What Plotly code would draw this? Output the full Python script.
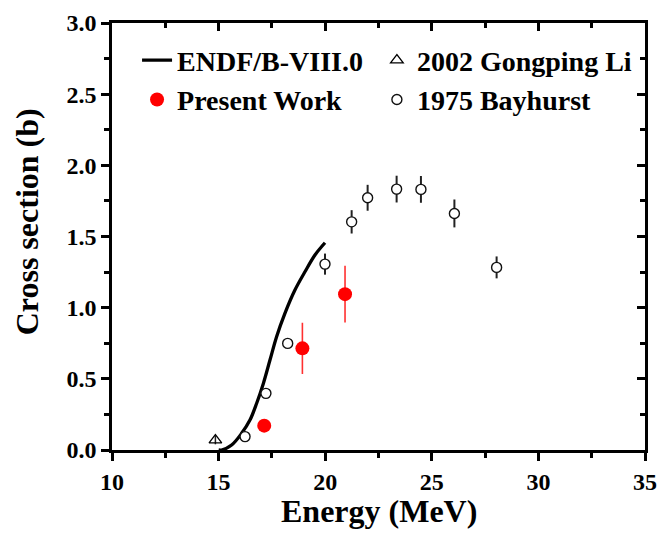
import plotly.graph_objects as go

# ---- data ----
endf_e = [15.0, 15.14, 15.61, 16.08, 16.47, 16.79, 17.10, 17.41, 17.72, 18.11, 18.58, 19.05, 19.52, 19.99]
endf_xs = [0.0, 0.0, 0.035, 0.117, 0.21, 0.33, 0.468, 0.632, 0.796, 0.96, 1.124, 1.252, 1.37, 1.456]

present_e = [17.14, 18.93, 20.93]
present_xs = [0.171, 0.714, 1.095]
present_err = [0.03, 0.18, 0.20]

li_e = [14.85]
li_xs = [0.07]
li_err = [0.03]

bay_e = [16.24, 17.22, 18.24, 19.99, 21.24, 21.99, 23.35, 24.49, 26.06, 28.04]
bay_xs = [0.094, 0.398, 0.749, 1.306, 1.603, 1.772, 1.833, 1.831, 1.662, 1.283]
bay_err = [0.03, 0.03, 0.03, 0.074, 0.082, 0.091, 0.094, 0.094, 0.098, 0.077]

x_range = [10, 35]
y_range = [0, 3.0]
x_title = "Energy (MeV)"
y_title = "Cross section (b)"

FONT = "Liberation Serif"

fig = go.Figure()

fig.add_trace(go.Scatter(
    x=endf_e, y=endf_xs, mode="lines", name="ENDF/B-VIII.0",
    line=dict(color="black", width=3.3, shape="spline"),
    legend="legend", legendrank=1,
))
fig.add_trace(go.Scatter(
    x=li_e, y=li_xs, mode="markers", name="2002 Gongping Li",
    marker=dict(symbol="triangle-up-open", size=11, color="black", line=dict(width=1.3, color="black")),
    error_y=dict(type="data", array=li_err, color="#222222", thickness=1.5, width=0),
    legend="legend2", legendrank=1,
))
fig.add_trace(go.Scatter(
    x=bay_e, y=bay_xs, mode="markers", name="1975 Bayhurst",
    marker=dict(symbol="circle", size=10, color="white", line=dict(width=1.4, color="#111111")),
    error_y=dict(type="data", array=bay_err, color="#222222", thickness=2, width=0),
    legend="legend2", legendrank=2,
))
fig.add_trace(go.Scatter(
    x=present_e, y=present_xs, mode="markers", name="Present Work",
    marker=dict(symbol="circle", size=14, color="#ff0000", line=dict(width=0)),
    error_y=dict(type="data", array=present_err, color="#ff3030", thickness=1.6, width=0),
    legend="legend", legendrank=2,
))
# empty trace to anchor the mirrored top/right axes
fig.add_trace(go.Scatter(x=[], y=[], xaxis="x2", yaxis="y2", showlegend=False, hoverinfo="skip"))

tickfont = dict(family=FONT, size=24, color="black", weight="bold")
titlefont = dict(family=FONT, size=32, color="black", weight="bold")
legfont = dict(family=FONT, size=28, color="black", weight="bold")

common = dict(showgrid=False, zeroline=False, tickcolor="black", tickwidth=2.5, automargin=False)

fig.update_layout(
    width=663, height=538,
    margin=dict(l=112, r=18, t=23, b=88),
    paper_bgcolor="white", plot_bgcolor="white",
    xaxis=dict(range=x_range, dtick=5, tick0=10, ticks="outside", ticklen=8, showline=True, mirror=True,
               linecolor="black", linewidth=2.5,
               minor=dict(ticks="outside", ticklen=5, dtick=2.5, tick0=10, tickwidth=2.5, tickcolor="black"),
               tickfont=tickfont, **common),
    yaxis=dict(range=y_range, dtick=0.5, tick0=0, ticks="outside", ticklen=8, showline=True, mirror=True,
               linecolor="black", linewidth=2.5, tickformat=".1f",
               minor=dict(ticks="outside", ticklen=5, dtick=0.25, tick0=0, tickwidth=2.5, tickcolor="black"),
               tickfont=tickfont, **common),
    xaxis2=dict(range=x_range, overlaying="x", side="top", anchor="y2", dtick=5, tick0=10, ticks="inside",
                ticklen=8, showticklabels=False, showline=False,
                minor=dict(ticks="inside", ticklen=5, dtick=2.5, tick0=10, tickwidth=2.5, tickcolor="black"),
                **common),
    yaxis2=dict(range=y_range, overlaying="y", side="right", anchor="x2", dtick=0.5, tick0=0, ticks="inside",
                ticklen=8, showticklabels=False, showline=False,
                minor=dict(ticks="inside", ticklen=5, dtick=0.25, tick0=0, tickwidth=2.5, tickcolor="black"),
                **common),
    legend=dict(x=0.047, y=0.971, xanchor="left", yanchor="top", bgcolor="rgba(0,0,0,0)",
                font=legfont, tracegroupgap=0, itemsizing="trace"),
    legend2=dict(x=0.497, y=0.971, xanchor="left", yanchor="top", bgcolor="rgba(0,0,0,0)",
                 font=legfont, tracegroupgap=0, itemsizing="trace"),
    showlegend=True,
    annotations=[
        dict(text=y_title, textangle=-90, xref="paper", yref="paper",
             x=-0.16, y=0.535, xanchor="center", yanchor="middle", showarrow=False, font=titlefont),
        dict(text=x_title, xref="paper", yref="paper",
             x=0.5, y=-0.142, xanchor="center", yanchor="middle", showarrow=False, font=titlefont),
    ],
)

fig.write_html("out.html")
